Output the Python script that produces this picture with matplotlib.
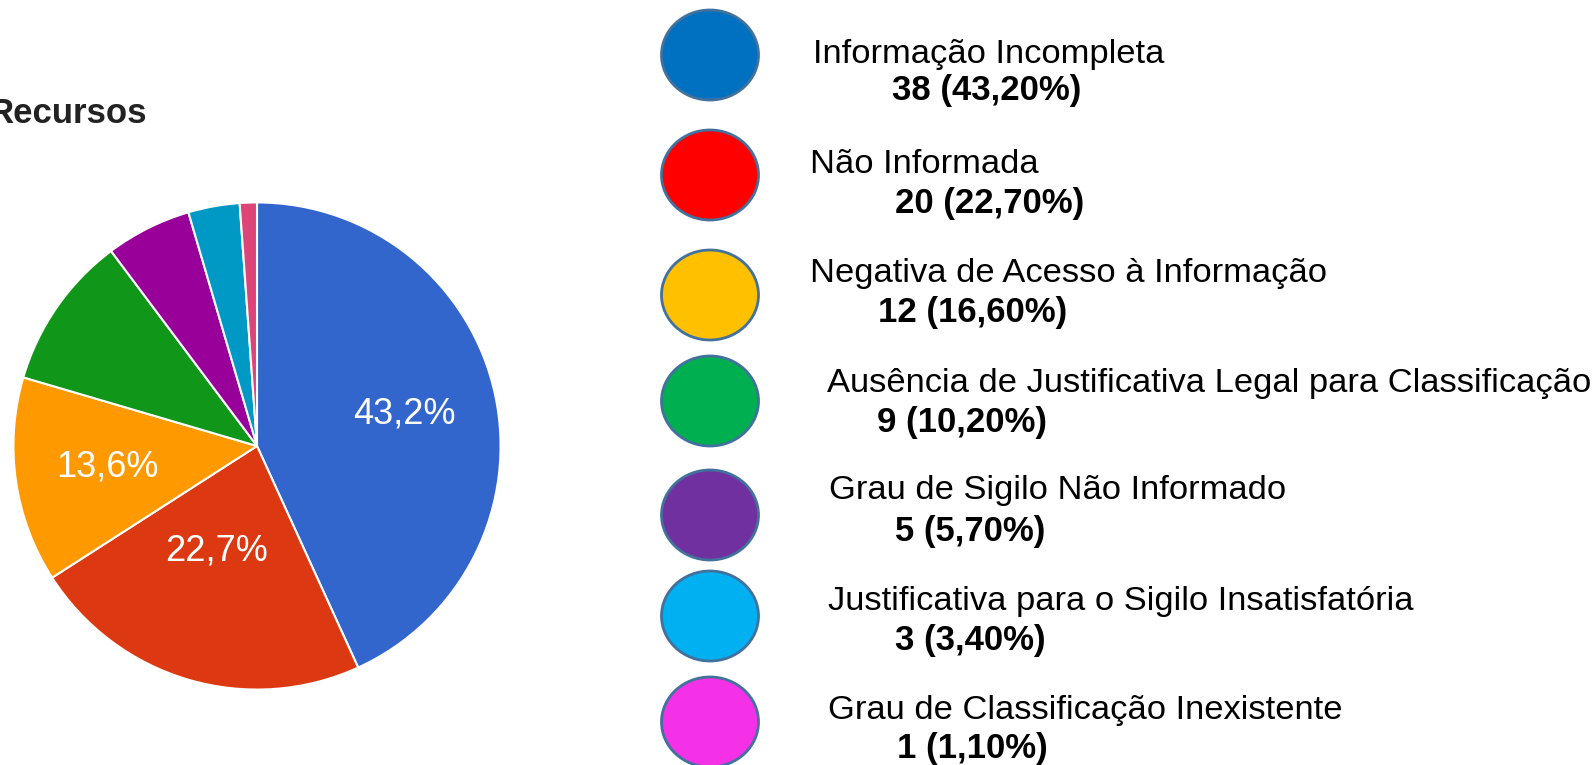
import matplotlib
matplotlib.use('Agg')
import matplotlib.pyplot as plt
from matplotlib.patches import Ellipse
import numpy as np

# data
categories = [
    'Informação Incompleta',
    'Não Informada',
    'Negativa de Acesso à Informação',
    'Ausência de Justificativa Legal para Classificação',
    'Grau de Sigilo Não Informado',
    'Justificativa para o Sigilo Insatisfatória',
    'Grau de Classificação Inexistente',
]
counts = [38, 20, 12, 9, 5, 3, 1]
legend_pct = ['43,20', '22,70', '16,60', '10,20', '5,70', '3,40', '1,10']

pie_colors = ['#3366CC', '#DC3912', '#FF9900', '#109618', '#990099', '#0099C6', '#DD4477']
dot_colors = ['#0070C0', '#FF0000', '#FFC000', '#00B050', '#7030A0', '#00B0F0', '#F431E6']

plt.rcParams['font.family'] = ['Liberation Sans', 'DejaVu Sans']

W, H = 1596, 765
fig = plt.figure(figsize=(W / 100, H / 100), dpi=100)
fig.patch.set_facecolor('white')

# pie (pixel centre 257,446 radius 246)
cx, cy, r = 257, 446, 246
ax_pie = fig.add_axes([(cx - r) / W, (H - cy - r) / H, 2 * r / W, 2 * r / H])


def fmt_pct(p):
    if p < 12:
        return ''
    return f'{p:.1f}'.replace('.', ',') + '%'


wedges, _, autotexts = ax_pie.pie(
    counts, colors=pie_colors, startangle=90, counterclock=False,
    autopct=fmt_pct, pctdistance=0.62, radius=1,
    wedgeprops={'edgecolor': 'white', 'linewidth': 1.5},
    textprops={'color': 'white', 'fontsize': 26})
ax_pie.set_xlim(-1.01, 1.01)
ax_pie.set_ylim(-1.01, 1.01)
ax_pie.set_aspect('equal')
ax_pie.axis('off')

# google puts the red label closer to the centre
w = wedges[1]
mid = np.deg2rad((w.theta1 + w.theta2) / 2)
autotexts[1].set_position((0.45 * np.cos(mid) - 0.04, 0.45 * np.sin(mid)))

# overlay in pixel coordinates for title and legend
ax = fig.add_axes([0, 0, 1, 1])
ax.set_xlim(0, W)
ax.set_ylim(H, 0)
ax.axis('off')

# title is cut at the left edge in the original
ax.text(147, 123, 'Recursos', ha='right', va='baseline', fontsize=25,
        fontweight='bold', color='#222222')

dot_y = [55, 175, 295, 401, 515, 616, 722]
label_xy = [(813, 63), (810, 173), (810, 282), (827, 392), (829, 499), (828, 610), (828, 719)]
value_xy = [(892, 100), (895, 213), (878, 322), (877, 432), (895, 541), (895, 650), (897, 758)]

for i, name in enumerate(categories):
    ax.add_patch(Ellipse((710, dot_y[i]), 97, 90, facecolor=dot_colors[i],
                         edgecolor='#41719C', linewidth=2))
    ax.text(label_xy[i][0], label_xy[i][1], name, ha='left', va='baseline',
            fontsize=24.8, color='black')
    ax.text(value_xy[i][0], value_xy[i][1], f'{counts[i]} ({legend_pct[i]}%)',
            ha='left', va='baseline', fontsize=25, fontweight='bold', color='black')

plt.savefig('out.png', dpi=100, facecolor='white')
